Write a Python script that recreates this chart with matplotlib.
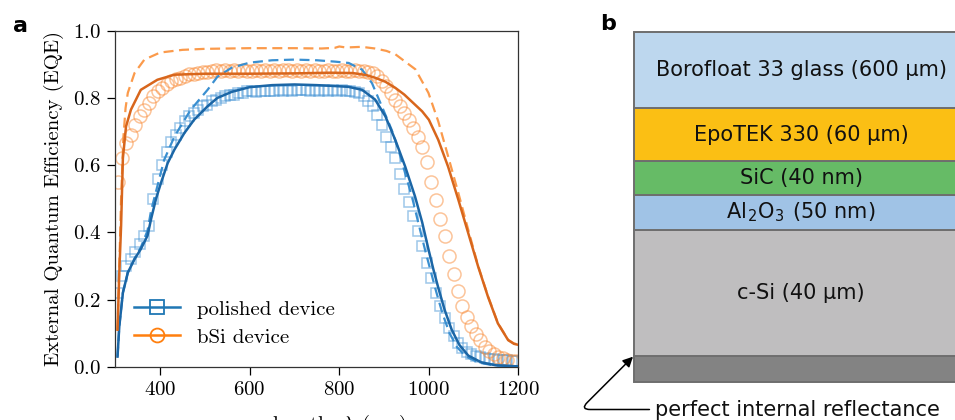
"""EQE of polished vs bSi devices (a) and the simulated layer stack (b)."""

import matplotlib

matplotlib.use("Agg")

import matplotlib.pyplot as plt
import numpy as np
from matplotlib.lines import Line2D

plt.rcParams["font.family"] = "cmr10"
plt.rcParams["mathtext.fontset"] = "cm"
plt.rcParams["axes.formatter.use_mathtext"] = True

# ── measured EQE, 10 nm grid ────────────────────────────────────────────────
wl_meas = np.arange(305, 1200, 10)

polished_meas = [
    0.22, 0.27, 0.30, 0.32, 0.34, 0.365, 0.39, 0.42, 0.50, 0.56,
    0.60, 0.64, 0.67, 0.69, 0.71, 0.73, 0.745, 0.755, 0.765, 0.775,
    0.78, 0.79, 0.795, 0.80, 0.805, 0.81, 0.81, 0.815, 0.815, 0.82,
    0.82, 0.818, 0.82, 0.822, 0.82, 0.822, 0.823, 0.822, 0.823, 0.822,
    0.823, 0.824, 0.823, 0.822, 0.823, 0.822, 0.823, 0.822, 0.823, 0.822,
    0.824, 0.822, 0.82, 0.818, 0.815, 0.805, 0.79, 0.775, 0.75, 0.72,
    0.685, 0.655, 0.62, 0.575, 0.53, 0.49, 0.45, 0.405, 0.36, 0.31,
    0.265, 0.22, 0.18, 0.145, 0.115, 0.09, 0.07, 0.055, 0.045, 0.038,
    0.033, 0.029, 0.026, 0.024, 0.022, 0.021, 0.02, 0.019, 0.018, 0.017,
]

bsi_meas = [
    0.55, 0.62, 0.665, 0.69, 0.72, 0.745, 0.765, 0.785, 0.805, 0.82,
    0.83, 0.842, 0.85, 0.855, 0.86, 0.865, 0.87, 0.872, 0.875, 0.877,
    0.878, 0.88, 0.882, 0.88, 0.882, 0.881, 0.883, 0.88, 0.882, 0.881,
    0.88, 0.882, 0.881, 0.883, 0.88, 0.882, 0.881, 0.883, 0.882, 0.88,
    0.882, 0.881, 0.883, 0.88, 0.882, 0.881, 0.88, 0.882, 0.881, 0.88,
    0.882, 0.881, 0.88, 0.882, 0.881, 0.88, 0.878, 0.875, 0.865, 0.85,
    0.835, 0.815, 0.795, 0.775, 0.755, 0.735, 0.71, 0.685, 0.655, 0.61,
    0.55, 0.495, 0.44, 0.39, 0.33, 0.275, 0.225, 0.18, 0.148, 0.12,
    0.098, 0.078, 0.06, 0.047, 0.037, 0.03, 0.025, 0.021, 0.018, 0.016,
]

# ── simulated EQE ───────────────────────────────────────────────────────────
polished_sim_wl = [
    305, 309, 317, 328, 343, 357, 372, 380, 391, 402, 417, 432, 454, 476,
    506, 528, 560, 600, 650, 700, 750, 780, 820, 851, 880, 903, 925, 947,
    969, 985, 999, 1010, 1021, 1035, 1051, 1068, 1088, 1117, 1150, 1200,
]
polished_sim = [
    0.03, 0.12, 0.22, 0.28, 0.32, 0.35, 0.39, 0.44, 0.50, 0.547, 0.606, 0.646,
    0.695, 0.735, 0.775, 0.80, 0.818, 0.832, 0.838, 0.84, 0.838, 0.836, 0.833,
    0.824, 0.795, 0.745, 0.675, 0.596, 0.507, 0.43, 0.35, 0.29, 0.235, 0.17,
    0.11, 0.065, 0.033, 0.013, 0.004, 0.001,
]

polished_ideal_wl = [
    305, 309, 317, 328, 343, 357, 372, 380, 409, 432, 468, 506, 528, 560,
    600, 650, 700, 750, 790, 821, 851, 873, 895, 917, 932, 947, 962, 978,
    992, 1004, 1016, 1030, 1046, 1063, 1083, 1112, 1145, 1200,
]
polished_ideal = [
    0.03, 0.12, 0.22, 0.28, 0.322, 0.355, 0.405, 0.465, 0.615, 0.685, 0.764,
    0.824, 0.863, 0.89, 0.905, 0.912, 0.914, 0.912, 0.908, 0.904, 0.884,
    0.844, 0.775, 0.705, 0.646, 0.576, 0.507, 0.42, 0.345, 0.285, 0.225,
    0.16, 0.1, 0.058, 0.03, 0.012, 0.004, 0.001,
]

bsi_sim_wl = [
    305, 309, 313, 317, 324, 335, 357, 394, 432, 500, 600, 700, 780, 830,
    860, 880, 903, 925, 945, 965, 985, 1000, 1021, 1043, 1066, 1088, 1110,
    1132, 1154, 1177, 1190, 1200,
]
bsi_sim = [
    0.11, 0.28, 0.42, 0.62, 0.715, 0.765, 0.824, 0.854, 0.869, 0.872, 0.872,
    0.873, 0.875, 0.874, 0.868, 0.86, 0.848, 0.83, 0.81, 0.785, 0.76, 0.735,
    0.675, 0.595, 0.496, 0.397, 0.298, 0.208, 0.129, 0.079, 0.068, 0.065,
]

bsi_ideal_wl = [
    305, 309, 313, 318, 323, 328, 343, 365, 400, 450, 500, 600, 700, 760,
    790, 800, 815, 850, 880, 905, 925, 950, 970, 999, 1021, 1043, 1066,
    1088, 1110, 1132, 1154, 1177, 1190, 1200,
]
bsi_ideal = [
    0.11, 0.3, 0.5, 0.68, 0.77, 0.815, 0.874, 0.914, 0.935, 0.943, 0.946,
    0.948, 0.948, 0.947, 0.949, 0.953, 0.95, 0.952, 0.947, 0.94, 0.93, 0.905,
    0.885, 0.815, 0.73, 0.626, 0.516, 0.407, 0.3, 0.21, 0.13, 0.08, 0.069,
    0.066,
]

# ── layer stack (drawing heights, bottom to top) ────────────────────────────
layer_labels = [
    "",
    "c-Si (40 µm)",
    r"Al$_\mathregular{2}$O$_\mathregular{3}$ (50 nm)",
    "SiC (40 nm)",
    "EpoTEK 330 (60 µm)",
    "Borofloat 33 glass (600 µm)",
]
layer_heights = [26, 125.7, 35, 34, 52.7, 76.3]
layer_colors = ["#838383", "#bfbebf", "#a0c3e6", "#66bb66", "#fbbf14", "#bdd7ee"]

BLUE = "#1f77b4"
ORANGE = "#ff7f0e"
BLUE_SIM = "#1b66a6"
BLUE_IDEAL = "#3a8fd0"
ORANGE_SIM = "#d8661c"
ORANGE_IDEAL = "#fb9a4b"

fig = plt.figure(figsize=(9.55, 4.2), dpi=100)

# ── panel a ─────────────────────────────────────────────────────────────────
ax = fig.add_axes([0.1207, 0.1269, 0.4222, 0.80])
ax.plot(wl_meas, polished_meas, ls="none", marker="s", ms=7.2, mfc="none",
        mec="#3d8fd3", mew=1.1, alpha=0.5, zorder=2)
ax.plot(wl_meas, bsi_meas, ls="none", marker="o", ms=9.4, mfc="none",
        mec="#f98a36", mew=1.1, alpha=0.5, zorder=2)
ax.plot(polished_ideal_wl, polished_ideal, color=BLUE_IDEAL, lw=1.6, ls=(0, (4.5, 2.5)), zorder=3)
ax.plot(bsi_ideal_wl, bsi_ideal, color=ORANGE_IDEAL, lw=1.6, ls=(0, (4.5, 2.5)), zorder=3)
ax.plot(polished_sim_wl, polished_sim, color=BLUE_SIM, lw=1.8, zorder=4)
ax.plot(bsi_sim_wl, bsi_sim, color=ORANGE_SIM, lw=1.8, zorder=4)

ax.set_xlim(300, 1200)
ax.set_ylim(0, 1.0)
ax.set_xticks([400, 600, 800, 1000, 1200])
ax.set_yticks([0.0, 0.2, 0.4, 0.6, 0.8, 1.0])
ax.tick_params(labelsize=15, length=5.5, width=0.9, pad=5)
ax.set_xlabel(r"wavelength, $\lambda$ (nm)", fontsize=15, labelpad=10)
ax.set_ylabel("External Quantum Efficiency (EQE)", fontsize=15, labelpad=6)
for sp in ax.spines.values():
    sp.set_linewidth(0.9)
    sp.set_color("#333333")

handles = [
    Line2D([], [], color=BLUE, lw=1.8, marker="s", ms=10, mfc="none", mew=1.3),
    Line2D([], [], color=ORANGE, lw=1.8, marker="o", ms=10, mfc="none", mew=1.3),
]
ax.legend(handles, ["polished device", "bSi device"], loc="lower left",
          bbox_to_anchor=(0.0, 0.004), frameon=False, fontsize=15,
          handlelength=2.2, handletextpad=0.8, labelspacing=0.45)

fig.text(20 / 955, 1 - 26 / 420, "a", fontsize=16, fontweight="bold",
         family="DejaVu Sans", ha="center", va="center")

# ── panel b ─────────────────────────────────────────────────────────────────
axb = fig.add_axes([634 / 955, 0.0912, 334 / 955, 0.8326])
bottoms = np.concatenate([[0], np.cumsum(layer_heights)[:-1]])
axb.bar(0.5, layer_heights, bottom=bottoms, width=1.0, color=layer_colors,
        edgecolor="#6e6e6e", linewidth=1.4, clip_on=False)
for lbl, b, h in zip(layer_labels, bottoms, layer_heights):
    if lbl:
        axb.text(0.5, b + h / 2, lbl, ha="center", va="center", fontsize=15,
                 family="DejaVu Sans", color="#111111")
axb.set_xlim(0, 1)
axb.set_ylim(0, sum(layer_heights))
axb.axis("off")

axb.annotate(
    "perfect internal reflectance",
    xy=(0, layer_heights[0]), xycoords="data",
    xytext=(655, 3.5), textcoords="figure pixels",
    ha="left", va="baseline", fontsize=15, family="DejaVu Sans", color="#111111",
    annotation_clip=False,
    arrowprops=dict(arrowstyle="-|>", color="black", lw=1.1, relpos=(0, 0.55),
                    connectionstyle="angle,angleA=180,angleB=45,rad=10",
                    shrinkA=2, shrinkB=1),
)

fig.text(608 / 955, 1 - 24 / 420, "b", fontsize=16, fontweight="bold",
         family="DejaVu Sans", ha="center", va="center")

fig.savefig("out.png", dpi=100)
